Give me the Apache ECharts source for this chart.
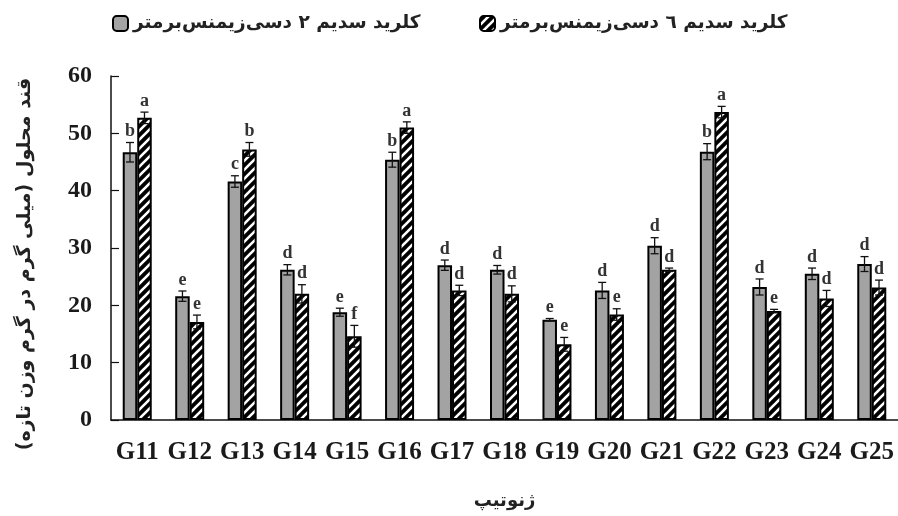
<!DOCTYPE html>
<html><head><meta charset="utf-8">
<script src="https://cdn.jsdelivr.net/npm/echarts@6/dist/echarts.min.js"></script>
<style>html,body{margin:0;padding:0;background:#fff}#c{width:898px;height:516px}</style>
</head><body><div id="c"></div>
<script>
var categories = ['G11','G12','G13','G14','G15','G16','G17','G18','G19','G20','G21','G22','G23','G24','G25'];
var series2Name = 'کلرید سدیم ۲ دسی‌زیمنس‌برمتر';
var series6Name = 'کلرید سدیم ٦ دسی‌زیمنس‌برمتر';
var values2 = [46.7, 21.6, 41.6, 26.2, 18.8, 45.4, 27.0, 26.2, 17.5, 22.6, 30.4, 46.8, 23.2, 25.5, 27.2];
var values6 = [52.7, 17.1, 47.2, 22.0, 14.6, 51.0, 22.6, 22.0, 13.2, 18.4, 26.2, 53.7, 19.0, 21.2, 23.1];
var err2 = [1.7, 0.9, 1.0, 0.9, 0.7, 1.3, 0.9, 0.75, 0.2, 1.4, 1.4, 1.4, 1.4, 1.0, 1.3];
var err6 = [1.0, 1.2, 1.2, 1.6, 1.9, 1.0, 0.9, 1.4, 1.2, 1.0, 0.3, 1.0, 0.3, 1.4, 1.3];
var letters2 = ['b','e','c','d','e','b','d','d','e','d','d','b','d','d','d'];
var letters6 = ['a','e','b','d','f','a','d','d','e','e','d','a','e','d','d'];
var yTicks = {min: 0, max: 60, interval: 10};
var xAxisName = 'ژنوتیپ';
var yAxisName = 'قند محلول (میلی گرم در گرم وزن تازه)';

var BW = 14.5;
var pat = document.createElement('canvas');
pat.width = 9; pat.height = 9;
var g = pat.getContext('2d');
g.fillStyle = '#000'; g.fillRect(0,0,9,9);
g.strokeStyle = '#fff'; g.lineWidth = 2.6;
g.beginPath();
g.moveTo(-1,10); g.lineTo(10,-1);
g.moveTo(-5,5); g.lineTo(5,-5);
g.moveTo(4,14); g.lineTo(14,4);
g.stroke();

var serif = '"Liberation Serif", "DejaVu Serif", serif';
var fa = '"DejaVu Sans", sans-serif';

function errSeries(vals, errs, letters, off) {
  return {
    type: 'custom',
    silent: true,
    z: 5,
    data: vals.map(function(v, i){ return [i, v, errs[i], letters[i]]; }),
    renderItem: function(params, api) {
      var i = api.value(0), v = api.value(1), e = api.value(2);
      var top = api.coord([i, v + e]);
      var bot = api.coord([i, v - e]);
      var x = top[0] + off;
      var st = {stroke: '#111', lineWidth: 1.3};
      return {type: 'group', children: [
        {type: 'line', shape: {x1: x, y1: top[1], x2: x, y2: bot[1]}, style: st},
        {type: 'line', shape: {x1: x - 4, y1: top[1], x2: x + 4, y2: top[1]}, style: st},
        {type: 'line', shape: {x1: x - 4, y1: bot[1], x2: x + 4, y2: bot[1]}, style: st},
        {type: 'text', x: x, y: top[1] - 2, style: {text: letters[params.dataIndex], fill: '#333',
          font: 'bold 18px ' + serif, align: 'center', verticalAlign: 'bottom'}}
      ]};
    }
  };
}

var chart = echarts.init(document.getElementById('c'));
chart.setOption({
  animation: false,
  grid: {left: 111, right: 0, top: 76, bottom: 96, containLabel: false},
  legend: [
    {left: 107, top: 9, itemWidth: 15, itemHeight: 15, data: [series2Name],
     textStyle: {fontFamily: fa, fontSize: 18.5, fontWeight: 'bold', color: '#222'}},
    {left: 474, top: 9, itemWidth: 15, itemHeight: 15, data: [series6Name],
     textStyle: {fontFamily: fa, fontSize: 18.5, fontWeight: 'bold', color: '#222'}}
  ],
  graphic: [{
    type: 'text', x: 25, y: 264, rotation: Math.PI / 2,
    style: {text: yAxisName, font: 'bold 19px ' + fa, fill: '#222', align: 'center', verticalAlign: 'middle'}
  }],
  xAxis: {
    type: 'category', data: categories,
    name: xAxisName, nameLocation: 'middle', nameGap: 72,
    nameTextStyle: {fontFamily: fa, fontSize: 18, fontWeight: 'bold', color: '#222'},
    axisLine: {lineStyle: {color: '#111', width: 1.5}},
    axisTick: {show: false},
    axisLabel: {fontFamily: serif, fontSize: 25, fontWeight: 'bold', color: '#1a1a1a', margin: 20, interval: 0}
  },
  yAxis: {
    type: 'value', min: yTicks.min, max: yTicks.max, interval: yTicks.interval,
    splitLine: {show: false},
    axisLine: {show: true, lineStyle: {color: '#111', width: 1.5}},
    axisTick: {show: true, inside: true, length: 8, lineStyle: {color: '#111', width: 1.2}},
    axisLabel: {fontFamily: serif, fontSize: 24, fontWeight: 'bold', color: '#1a1a1a', margin: 19}
  },
  series: [
    {name: series2Name, type: 'bar', data: values2, barWidth: BW, barGap: '0%',
     itemStyle: {color: '#a3a3a3', borderColor: '#000', borderWidth: 2}},
    {name: series6Name, type: 'bar', data: values6, barWidth: BW, barGap: '0%',
     itemStyle: {color: {image: pat, repeat: 'repeat'}, borderColor: '#000', borderWidth: 2}},
    errSeries(values2, err2, letters2, -BW / 2),
    errSeries(values6, err6, letters6, BW / 2)
  ]
});
</script></body></html>
